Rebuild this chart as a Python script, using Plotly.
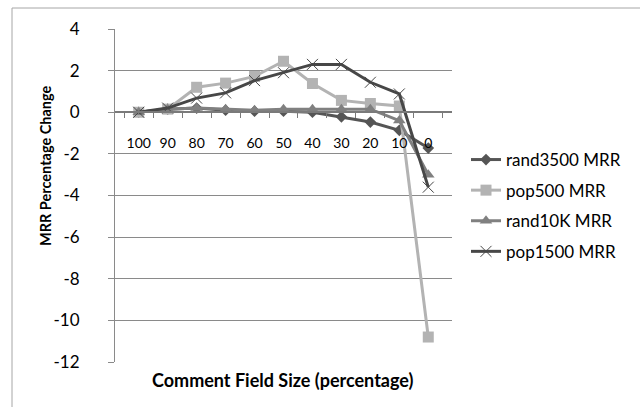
import plotly.graph_objects as go

# Comment field size (percent of original), shown largest to smallest
field_sizes = ["100", "90", "80", "70", "60", "50", "40", "30", "20", "10", "0"]

# MRR percentage change per configuration
rand3500_mrr = [0.0, 0.15, 0.2, 0.1, 0.05, 0.05, 0.0, -0.22, -0.47, -0.87, -1.72]
pop500_mrr = [0.0, 0.15, 1.2, 1.4, 1.72, 2.45, 1.38, 0.57, 0.42, 0.3, -10.8]
rand10k_mrr = [0.0, 0.15, 0.2, 0.15, 0.1, 0.15, 0.15, 0.15, 0.15, -0.4, -3.0]
pop1500_mrr = [0.0, 0.2, 0.68, 0.93, 1.52, 1.9, 2.3, 2.3, 1.44, 0.88, -3.6]

y_ticks = [-12, -10, -8, -6, -4, -2, 0, 2, 4]
y_tick_text = ["-12", "-10", "-8", "-6", "-4", "-2", "0", "2", "4"]

FONT = "Lato, 'Open Sans', sans-serif"
GRID = "#8a8a8a"

series = [
    ("rand3500 MRR", rand3500_mrr, "#555555", dict(symbol="diamond", size=9)),
    ("pop500 MRR", pop500_mrr, "#b3b3b3", dict(symbol="square", size=11)),
    ("rand10K MRR", rand10k_mrr, "#808080", dict(symbol="triangle-up", size=11)),
    ("pop1500 MRR", pop1500_mrr, "#474747",
     dict(symbol="x-thin", size=11, line=dict(width=1, color="#474747"))),
]

fig = go.Figure()
for i, (name, vals, color, marker) in enumerate(series):
    fig.add_trace(go.Scatter(
        x=field_sizes, y=vals, name=name, mode="lines+markers",
        line=dict(color=color, width=3),
        marker=dict(color=color, **marker),
        legendgroup=f"g{i}",
    ))

# plot-area pixel geometry
W, H = 640, 407
L, R, T, B = 115, 452, 29, 362
pw, ph = R - L, B - T

def px(x):
    return (x - L) / pw

def py(y):
    return (B - y) / ph

fig.update_layout(
    width=W, height=H,
    margin=dict(l=L, r=W - R, t=T, b=H - B),
    paper_bgcolor="white", plot_bgcolor="white",
    font=dict(family=FONT, size=15, color="#000000"),
    showlegend=True,
    legend=dict(
        x=px(466), y=py(142), xanchor="left", yanchor="top",
        font=dict(family=FONT, size=17, color="#000000"),
        tracegroupgap=5.5, bgcolor="rgba(0,0,0,0)",
    ),
    xaxis=dict(
        type="category", anchor="free",
        position=12 / 16,
        showline=True, linecolor="#7a7a7a", linewidth=1.5,
        ticks="outside", ticklen=5, tickcolor="#7a7a7a", tickson="boundaries",
        showgrid=False, zeroline=False, tickangle=0,
        ticklabelstandoff=18,
        tickfont=dict(family=FONT, size=14, color="#000000"),
    ),
    yaxis=dict(
        range=[-12, 4], tickvals=y_ticks, ticktext=y_tick_text,
        showline=True, linecolor="#8a8a8a", linewidth=1,
        ticks="outside", ticklen=6, tickcolor="#8a8a8a",
        showgrid=True, gridcolor=GRID, gridwidth=1, zeroline=False,
        ticklabelstandoff=25,
        tickfont=dict(family=FONT, size=17, color="#000000"),
    ),
    annotations=[
        dict(text="<b>MRR Percentage Change</b>", textangle=-90,
             x=px(45), y=py(166), xref="paper", yref="paper",
             xanchor="center", yanchor="middle", showarrow=False,
             font=dict(family=FONT, size=14.5, color="#000000")),
        dict(text="<b>Comment Field Size (percentage)</b>",
             x=px(283), y=py(380), xref="paper", yref="paper",
             xanchor="center", yanchor="middle", showarrow=False,
             font=dict(family=FONT, size=18, color="#000000")),
    ],
    shapes=[
        dict(type="line", xref="paper", yref="paper",
             x0=px(12), y0=py(8), x1=px(660), y1=py(8),
             line=dict(color="#a6a6a6", width=1)),
        dict(type="line", xref="paper", yref="paper",
             x0=px(12), y0=py(8), x1=px(12), y1=py(420),
             line=dict(color="#a6a6a6", width=1)),
    ],
)

fig.write_html("out.html")
